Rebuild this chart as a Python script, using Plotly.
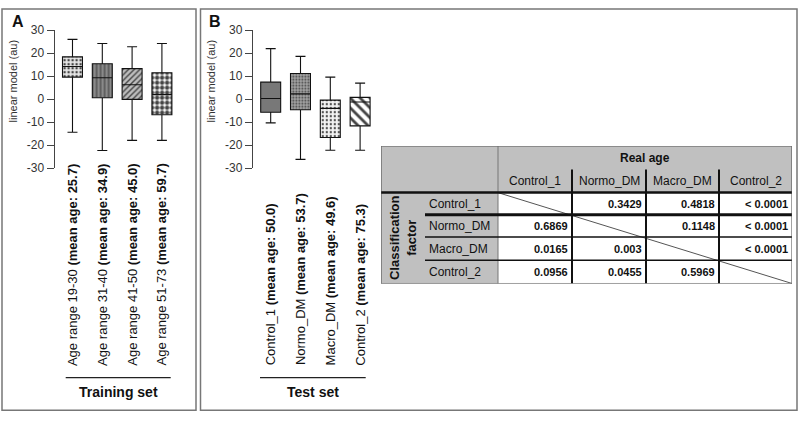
import plotly.graph_objects as go

FONT = "Arial, Liberation Sans, sans-serif"

# ---------------- data ----------------
train_groups = ["Age range 19-30", "Age range 31-40", "Age range 41-50", "Age range 51-73"]
train_mean_age = ["25.7", "34.9", "45.0", "59.7"]
train_upper = [26.0, 24.2, 22.8, 24.2]
train_q3 = [18.4, 15.4, 13.3, 11.5]
train_median = [14.2, 9.3, 6.3, 2.0]
train_q1 = [9.6, 0.6, -0.1, -6.8]
train_lower = [-14.4, -22.3, -17.9, -17.9]

test_groups = ["Control_1", "Normo_DM", "Macro_DM", "Control_2"]
test_mean_age = ["50.0", "53.7", "49.6", "75.3"]
test_upper = [22.0, 18.6, 9.6, 7.0]
test_q3 = [7.4, 11.2, -0.4, 0.8]
test_median = [0.3, 2.3, -4.0, -1.2]
test_q1 = [-5.7, -4.6, -16.7, -11.6]
test_lower = [-10.3, -26.2, -22.2, -22.2]

y_ticks = [-30, -20, -10, 0, 10, 20, 30]
y_tick_labels = ["-30", "-20", "-10", "0", "10", "20", "30"]

table_cols = ["Control_1", "Normo_DM", "Macro_DM", "Control_2"]
table_rows = ["Control_1", "Normo_DM", "Macro_DM", "Control_2"]
table_values = [
    [None, "0.3429", "0.4818", "< 0.0001"],
    ["0.6869", None, "0.1148", "< 0.0001"],
    ["0.0165", "0.003", None, "< 0.0001"],
    ["0.0956", "0.0455", "0.5969", None],
]

# ---------------- styles ----------------
train_fill = ["#e6e6e6", "#8a8a8a", "#bdbdbd", "#ffffff"]
train_pattern = dict(shape=[".", "|", "/", "."],
                     fgcolor=["#a0a0a0", "#2a2a2a", "#1a1a1a", "#000000"],
                     size=[4, 4, 4, 5], solidity=[0.3, 0.3, 0.35, 0.6],
                     fgopacity=1, fillmode="overlay")
test_fill = ["#787878", "#a4a4a4", "#f4f4f4", "#ffffff"]
test_pattern = dict(shape=["", ".", ".", "\\"],
                    fgcolor=["#787878", "#f0f0f0", "#1a1a1a", "#000000"],
                    size=[4, 3, 4, 7], solidity=[0.2, 0.3, 0.25, 0.4],
                    fgopacity=1, fillmode="overlay")

W, H = 800, 421
fig = go.Figure()

def add_panel(xa, ya, q1, med, q3, lo, up, fill, pattern):
    n = len(q1)
    xs = list(range(n))
    fig.add_trace(go.Bar(x=xs, y=[b - a for a, b in zip(q1, q3)], base=q1, width=0.67,
                         marker=dict(color=fill, pattern=pattern, line=dict(width=0)),
                         xaxis=xa, yaxis=ya, showlegend=False, hoverinfo="skip"))
    fig.add_trace(go.Box(x=xs, q1=q1, median=med, q3=q3, lowerfence=lo, upperfence=up,
                         width=0.67, whiskerwidth=0.5, fillcolor="rgba(0,0,0,0)",
                         line=dict(color="#111111", width=1.1), xaxis=xa, yaxis=ya,
                         showlegend=False, hoverinfo="skip"))

add_panel("x", "y", train_q1, train_median, train_q3, train_lower, train_upper, train_fill, train_pattern)
add_panel("x2", "y2", test_q1, test_median, test_q3, test_lower, test_upper, test_fill, test_pattern)

ydom = [(H - 166.7) / H, (H - 24.0) / H]
yax = dict(range=[-30, 30], domain=ydom, tickvals=y_ticks, ticktext=y_tick_labels, showline=True,
           linecolor="#444", linewidth=1, ticks="outside", ticklen=7, tickcolor="#444", showgrid=False,
           zeroline=False, tickfont=dict(size=12, color="#333", family=FONT))
xax = dict(range=[-0.6, 3.6], showgrid=False, zeroline=False, showticklabels=False, showline=False, ticks="")

fig.update_layout(
    width=W, height=H, margin=dict(l=0, r=0, t=0, b=0),
    paper_bgcolor="white", plot_bgcolor="rgba(0,0,0,0)", barmode="overlay",
    font=dict(family=FONT),
    xaxis=dict(xax, domain=[54.6 / W, 179.8 / W], anchor="y"),
    yaxis=dict(yax, anchor="x"),
    xaxis2=dict(xax, domain=[252.8 / W, 378.0 / W], anchor="y2"),
    yaxis2=dict(yax, anchor="x2"),
    xaxis3=dict(range=[0, 411], domain=[381 / W, 792 / W], anchor="y3", visible=False),
    yaxis3=dict(range=[142, 0], domain=[(H - 286) / H, (H - 144) / H], anchor="x3", visible=False),
)

shapes = []
ann = []

# panel frames
for x0, x1 in [(2, 196), (200.5, 797)]:
    shapes.append(dict(type="rect", xref="paper", yref="paper", x0=x0 / W, x1=x1 / W,
                       y0=(H - 417) / H, y1=(H - 2) / H, line=dict(color="#777", width=1.5)))
ann.append(dict(text="<b>A</b>", x=10 / W, y=(H - 15) / H, xref="paper", yref="paper",
                xanchor="left", yanchor="middle", showarrow=False, font=dict(size=16, color="#111")))
ann.append(dict(text="<b>B</b>", x=207 / W, y=(H - 15) / H, xref="paper", yref="paper",
                xanchor="left", yanchor="middle", showarrow=False, font=dict(size=16, color="#111")))

# y-axis titles
for xp in [13, 211]:
    ann.append(dict(text="linear model (au)", x=xp / W, y=(H - 77) / H, xref="paper", yref="paper",
                    textangle=-90, xanchor="center", yanchor="middle", showarrow=False,
                    font=dict(size=11, color="#333")))

# category labels
for xa, groups, ages in [("x", train_groups, train_mean_age), ("x2", test_groups, test_mean_age)]:
    for i, (g, a) in enumerate(zip(groups, ages)):
        ann.append(dict(text=f"{g} <b>(mean age: {a})</b>", x=i, xref=xa, y=(H - 373) / H, yref="paper",
                        textangle=-90, xanchor="center", yanchor="bottom", showarrow=False,
                        font=dict(size=13, color="#111")))

# set captions
for x0, x1, label in [(65.7, 170.7, "Training set"), (260, 365.7, "Test set")]:
    shapes.append(dict(type="line", xref="paper", yref="paper", x0=x0 / W, x1=x1 / W,
                       y0=(H - 383.3) / H, y1=(H - 383.3) / H, line=dict(color="#222", width=1.2)))
    ann.append(dict(text=f"<b>{label}</b>", x=(x0 + x1) / 2 / W, y=(H - 398) / H, xref="paper",
                    yref="paper", xanchor="center", yanchor="middle", showarrow=False,
                    font=dict(size=14, color="#111")))

# ---------------- table (x3/y3, pixel-like units) ----------------
col_w = [44, 73, 74, 74, 73, 73]
row_h = [24, 24, 23, 23, 24, 24]
cx = [0]
for w in col_w:
    cx.append(cx[-1] + w)
ry = [0]
for h in row_h:
    ry.append(ry[-1] + h)
T = dict(xref="x3", yref="y3")
GRAY = "#c0c0c0"
shapes.append(dict(type="rect", **T, x0=cx[0], x1=cx[-1], y0=ry[0], y1=ry[2], fillcolor=GRAY, line=dict(width=0), layer="below"))
shapes.append(dict(type="rect", **T, x0=cx[0], x1=cx[2], y0=ry[2], y1=ry[-1], fillcolor=GRAY, line=dict(width=0), layer="below"))
shapes.append(dict(type="line", **T, x0=cx[2], y0=ry[2], x1=cx[-1], y1=ry[-1], line=dict(color="#555", width=1)))
shapes.append(dict(type="line", **T, x0=cx[2], x1=cx[2], y0=ry[0], y1=ry[-1], line=dict(color="#777", width=1)))
for k in range(3, 6):
    shapes.append(dict(type="line", **T, x0=cx[k], x1=cx[k], y0=ry[1], y1=ry[-1], line=dict(color="#111", width=2)))
shapes.append(dict(type="line", **T, x0=cx[0], x1=cx[-1], y0=ry[2], y1=ry[2], line=dict(color="#111", width=2.5)))
for k, wdt in [(3, 3), (4, 1.5), (5, 1.5)]:
    shapes.append(dict(type="line", **T, x0=cx[1], x1=cx[-1], y0=ry[k], y1=ry[k], line=dict(color="#111", width=wdt)))
shapes.append(dict(type="rect", **T, x0=cx[0], x1=cx[-1], y0=ry[0], y1=ry[-1], line=dict(color="#444", width=1)))

tfont = dict(size=12, color="#111", family=FONT)
ann.append(dict(text="<b>Real age</b>", x=(cx[2] + cx[-1]) / 2, y=(ry[0] + ry[1]) / 2, **T,
                showarrow=False, font=tfont))
for j, c in enumerate(table_cols):
    ann.append(dict(text=c, x=(cx[2 + j] + cx[3 + j]) / 2, y=(ry[1] + ry[2]) / 2, **T,
                    showarrow=False, font=tfont))
for i, r in enumerate(table_rows):
    yc = (ry[2 + i] + ry[3 + i]) / 2
    ann.append(dict(text=r, x=cx[1] + 2, y=yc, **T, xanchor="left", showarrow=False, font=tfont))
    for j, v in enumerate(table_values[i]):
        if v is None:
            continue
        ann.append(dict(text=f"<b>{v}</b>", x=cx[3 + j] - 2, y=yc, **T, xanchor="right",
                        showarrow=False, font=dict(size=11, color="#111", family=FONT)))
ann.append(dict(text="<b>Classification<br>factor</b>", x=(cx[0] + cx[1]) / 2, y=(ry[2] + ry[-1]) / 2, **T,
                textangle=-90, showarrow=False, font=dict(size=13, color="#111", family=FONT)))

fig.update_layout(shapes=shapes, annotations=ann)
fig.write_html("out.html", config={"displayModeBar": False},
               post_script="document.body.style.margin='0';document.body.style.overflow='hidden';")
